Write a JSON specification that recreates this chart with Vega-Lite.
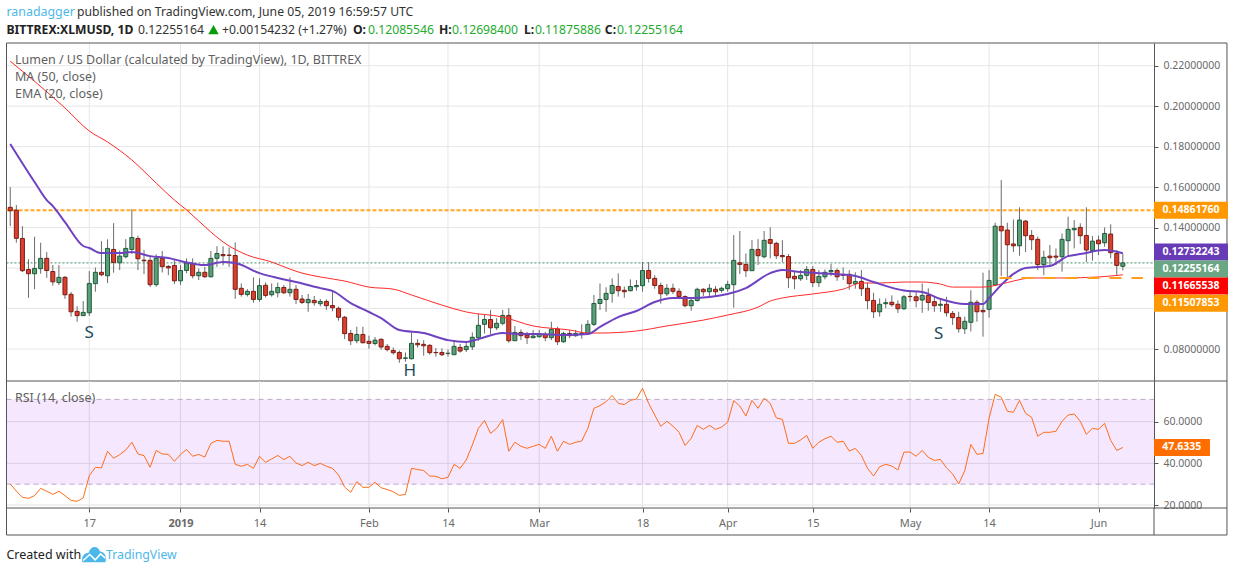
{
  "$schema": "https://vega.github.io/schema/vega-lite/v6.json",
  "width": 1234,
  "height": 572,
  "autosize": {"type": "fit", "contains": "padding"},
  "padding": 0,
  "background": "white",
  "config": {"view": {"stroke": null}, "text": {"font": "Noto Sans"}},
  "datasets": {
    "candles": [
      {"date":"2018-12-04","open":0.1500,"high":0.1600,"low":0.1407,"close":0.1483,"rsi":30.1},
      {"date":"2018-12-05","open":0.1486,"high":0.1511,"low":0.1325,"close":0.1347,"rsi":26.7},
      {"date":"2018-12-06","open":0.1346,"high":0.1407,"low":0.1180,"close":0.1187,"rsi":23.7},
      {"date":"2018-12-07","open":0.1193,"high":0.1244,"low":0.1053,"close":0.1172,"rsi":23.2},
      {"date":"2018-12-08","open":0.1172,"high":0.1355,"low":0.1096,"close":0.1198,"rsi":24.5},
      {"date":"2018-12-09","open":0.1197,"high":0.1325,"low":0.1172,"close":0.1248,"rsi":28.0},
      {"date":"2018-12-10","open":0.1248,"high":0.1279,"low":0.1152,"close":0.1188,"rsi":26.6},
      {"date":"2018-12-11","open":0.1183,"high":0.1215,"low":0.1113,"close":0.1132,"rsi":25.1},
      {"date":"2018-12-12","open":0.1128,"high":0.1215,"low":0.1116,"close":0.1154,"rsi":26.6},
      {"date":"2018-12-13","open":0.1154,"high":0.1161,"low":0.1048,"close":0.1068,"rsi":24.5},
      {"date":"2018-12-14","open":0.1070,"high":0.1082,"low":0.0960,"close":0.0984,"rsi":22.2},
      {"date":"2018-12-15","open":0.0986,"high":0.1012,"low":0.0935,"close":0.0965,"rsi":21.8},
      {"date":"2018-12-16","open":0.0965,"high":0.1037,"low":0.0963,"close":0.0981,"rsi":23.4},
      {"date":"2018-12-17","open":0.0979,"high":0.1185,"low":0.0963,"close":0.1124,"rsi":34.1},
      {"date":"2018-12-18","open":0.1123,"high":0.1203,"low":0.1083,"close":0.1179,"rsi":38.1},
      {"date":"2018-12-19","open":0.1179,"high":0.1333,"low":0.1160,"close":0.1167,"rsi":37.8},
      {"date":"2018-12-20","open":0.1162,"high":0.1342,"low":0.1126,"close":0.1297,"rsi":45.8},
      {"date":"2018-12-21","open":0.1292,"high":0.1422,"low":0.1177,"close":0.1228,"rsi":42.4},
      {"date":"2018-12-22","open":0.1226,"high":0.1286,"low":0.1190,"close":0.1259,"rsi":44.2},
      {"date":"2018-12-23","open":0.1256,"high":0.1343,"low":0.1248,"close":0.1297,"rsi":46.4},
      {"date":"2018-12-24","open":0.1292,"high":0.1491,"low":0.1269,"close":0.1351,"rsi":50.1},
      {"date":"2018-12-25","open":0.1346,"high":0.1360,"low":0.1190,"close":0.1246,"rsi":44.5},
      {"date":"2018-12-26","open":0.1239,"high":0.1289,"low":0.1170,"close":0.1236,"rsi":43.7},
      {"date":"2018-12-27","open":0.1238,"high":0.1256,"low":0.1106,"close":0.1118,"rsi":38.1},
      {"date":"2018-12-28","open":0.1118,"high":0.1268,"low":0.1108,"close":0.1248,"rsi":46.2},
      {"date":"2018-12-29","open":0.1248,"high":0.1284,"low":0.1178,"close":0.1207,"rsi":44.5},
      {"date":"2018-12-30","open":0.1208,"high":0.1215,"low":0.1165,"close":0.1201,"rsi":44.3},
      {"date":"2018-12-31","open":0.1213,"high":0.1239,"low":0.1121,"close":0.1137,"rsi":41.0},
      {"date":"2019-01-01","open":0.1137,"high":0.1215,"low":0.1116,"close":0.1188,"rsi":44.2},
      {"date":"2019-01-02","open":0.1188,"high":0.1248,"low":0.1174,"close":0.1225,"rsi":46.7},
      {"date":"2019-01-03","open":0.1223,"high":0.1248,"low":0.1149,"close":0.1162,"rsi":43.4},
      {"date":"2019-01-04","open":0.1162,"high":0.1198,"low":0.1141,"close":0.1179,"rsi":44.3},
      {"date":"2019-01-05","open":0.1179,"high":0.1206,"low":0.1152,"close":0.1157,"rsi":43.0},
      {"date":"2019-01-06","open":0.1157,"high":0.1284,"low":0.1154,"close":0.1248,"rsi":49.6},
      {"date":"2019-01-07","open":0.1248,"high":0.1308,"low":0.1206,"close":0.1272,"rsi":51.0},
      {"date":"2019-01-08","open":0.1267,"high":0.1308,"low":0.1213,"close":0.1261,"rsi":50.6},
      {"date":"2019-01-09","open":0.1264,"high":0.1302,"low":0.1206,"close":0.1263,"rsi":50.6},
      {"date":"2019-01-10","open":0.1262,"high":0.1327,"low":0.1048,"close":0.1095,"rsi":39.5},
      {"date":"2019-01-11","open":0.1100,"high":0.1124,"low":0.1059,"close":0.1070,"rsi":38.6},
      {"date":"2019-01-12","open":0.1069,"high":0.1096,"low":0.1059,"close":0.1085,"rsi":39.5},
      {"date":"2019-01-13","open":0.1085,"high":0.1154,"low":0.1029,"close":0.1045,"rsi":37.6},
      {"date":"2019-01-14","open":0.1045,"high":0.1149,"low":0.1034,"close":0.1113,"rsi":43.4},
      {"date":"2019-01-15","open":0.1115,"high":0.1129,"low":0.1055,"close":0.1065,"rsi":40.5},
      {"date":"2019-01-16","open":0.1068,"high":0.1124,"low":0.1059,"close":0.1085,"rsi":42.1},
      {"date":"2019-01-17","open":0.1078,"high":0.1128,"low":0.1055,"close":0.1104,"rsi":43.8},
      {"date":"2019-01-18","open":0.1104,"high":0.1116,"low":0.1072,"close":0.1078,"rsi":41.8},
      {"date":"2019-01-19","open":0.1078,"high":0.1154,"low":0.1059,"close":0.1095,"rsi":43.4},
      {"date":"2019-01-20","open":0.1095,"high":0.1116,"low":0.1022,"close":0.1045,"rsi":40.2},
      {"date":"2019-01-21","open":0.1047,"high":0.1067,"low":0.1022,"close":0.1030,"rsi":38.9},
      {"date":"2019-01-22","open":0.1029,"high":0.1072,"low":0.0984,"close":0.1045,"rsi":40.5},
      {"date":"2019-01-23","open":0.1040,"high":0.1062,"low":0.1014,"close":0.1029,"rsi":38.9},
      {"date":"2019-01-24","open":0.1024,"high":0.1047,"low":0.1011,"close":0.1035,"rsi":40.0},
      {"date":"2019-01-25","open":0.1035,"high":0.1045,"low":0.0993,"close":0.1014,"rsi":38.6},
      {"date":"2019-01-26","open":0.1015,"high":0.1087,"low":0.0987,"close":0.1004,"rsi":37.6},
      {"date":"2019-01-27","open":0.1001,"high":0.1009,"low":0.0940,"close":0.0957,"rsi":34.4},
      {"date":"2019-01-28","open":0.0957,"high":0.0963,"low":0.0849,"close":0.0876,"rsi":28.6},
      {"date":"2019-01-29","open":0.0877,"high":0.0894,"low":0.0820,"close":0.0841,"rsi":26.1},
      {"date":"2019-01-30","open":0.0841,"high":0.0910,"low":0.0828,"close":0.0872,"rsi":31.2},
      {"date":"2019-01-31","open":0.0872,"high":0.0910,"low":0.0828,"close":0.0831,"rsi":28.5},
      {"date":"2019-02-01","open":0.0838,"high":0.0866,"low":0.0802,"close":0.0828,"rsi":28.5},
      {"date":"2019-02-02","open":0.0827,"high":0.0859,"low":0.0818,"close":0.0844,"rsi":30.9},
      {"date":"2019-02-03","open":0.0848,"high":0.0853,"low":0.0797,"close":0.0810,"rsi":28.3},
      {"date":"2019-02-04","open":0.0813,"high":0.0825,"low":0.0788,"close":0.0797,"rsi":27.4},
      {"date":"2019-02-05","open":0.0793,"high":0.0808,"low":0.0772,"close":0.0782,"rsi":26.4},
      {"date":"2019-02-06","open":0.0783,"high":0.0793,"low":0.0732,"close":0.0752,"rsi":24.6},
      {"date":"2019-02-07","open":0.0754,"high":0.0783,"low":0.0737,"close":0.0756,"rsi":25.1},
      {"date":"2019-02-08","open":0.0752,"high":0.0882,"low":0.0749,"close":0.0828,"rsi":37.6},
      {"date":"2019-02-09","open":0.0828,"high":0.0848,"low":0.0807,"close":0.0821,"rsi":37.1},
      {"date":"2019-02-10","open":0.0823,"high":0.0844,"low":0.0767,"close":0.0816,"rsi":36.5},
      {"date":"2019-02-11","open":0.0818,"high":0.0825,"low":0.0772,"close":0.0782,"rsi":33.9},
      {"date":"2019-02-12","open":0.0783,"high":0.0805,"low":0.0762,"close":0.0782,"rsi":33.8},
      {"date":"2019-02-13","open":0.0783,"high":0.0803,"low":0.0765,"close":0.0772,"rsi":32.6},
      {"date":"2019-02-14","open":0.0778,"high":0.0798,"low":0.0762,"close":0.0779,"rsi":33.3},
      {"date":"2019-02-15","open":0.0772,"high":0.0844,"low":0.0772,"close":0.0813,"rsi":39.5},
      {"date":"2019-02-16","open":0.0808,"high":0.0825,"low":0.0782,"close":0.0790,"rsi":37.6},
      {"date":"2019-02-17","open":0.0797,"high":0.0833,"low":0.0785,"close":0.0813,"rsi":41.6},
      {"date":"2019-02-18","open":0.0811,"high":0.0882,"low":0.0795,"close":0.0858,"rsi":48.8},
      {"date":"2019-02-19","open":0.0856,"high":0.0973,"low":0.0840,"close":0.0917,"rsi":56.8},
      {"date":"2019-02-20","open":0.0922,"high":0.0973,"low":0.0877,"close":0.0946,"rsi":60.6},
      {"date":"2019-02-21","open":0.0946,"high":0.0993,"low":0.0874,"close":0.0905,"rsi":54.4},
      {"date":"2019-02-22","open":0.0905,"high":0.0952,"low":0.0894,"close":0.0927,"rsi":56.8},
      {"date":"2019-02-23","open":0.0927,"high":0.0993,"low":0.0917,"close":0.0966,"rsi":61.0},
      {"date":"2019-02-24","open":0.0966,"high":0.1002,"low":0.0831,"close":0.0841,"rsi":45.8},
      {"date":"2019-02-25","open":0.0841,"high":0.0914,"low":0.0841,"close":0.0882,"rsi":50.1},
      {"date":"2019-02-26","open":0.0882,"high":0.0897,"low":0.0844,"close":0.0866,"rsi":48.2},
      {"date":"2019-02-27","open":0.0869,"high":0.0885,"low":0.0825,"close":0.0856,"rsi":47.2},
      {"date":"2019-02-28","open":0.0856,"high":0.0894,"low":0.0853,"close":0.0864,"rsi":48.2},
      {"date":"2019-03-01","open":0.0861,"high":0.0894,"low":0.0856,"close":0.0872,"rsi":49.1},
      {"date":"2019-03-02","open":0.0872,"high":0.0885,"low":0.0839,"close":0.0856,"rsi":47.2},
      {"date":"2019-03-03","open":0.0856,"high":0.0935,"low":0.0844,"close":0.0897,"rsi":53.0},
      {"date":"2019-03-04","open":0.0899,"high":0.0910,"low":0.0820,"close":0.0836,"rsi":45.8},
      {"date":"2019-03-05","open":0.0836,"high":0.0885,"low":0.0831,"close":0.0877,"rsi":50.6},
      {"date":"2019-03-06","open":0.0877,"high":0.0894,"low":0.0853,"close":0.0866,"rsi":49.1},
      {"date":"2019-03-07","open":0.0866,"high":0.0894,"low":0.0860,"close":0.0877,"rsi":50.1},
      {"date":"2019-03-08","open":0.0877,"high":0.0922,"low":0.0851,"close":0.0878,"rsi":50.7},
      {"date":"2019-03-09","open":0.0876,"high":0.0943,"low":0.0874,"close":0.0922,"rsi":56.8},
      {"date":"2019-03-10","open":0.0922,"high":0.1067,"low":0.0914,"close":0.1025,"rsi":66.4},
      {"date":"2019-03-11","open":0.1025,"high":0.1124,"low":0.0993,"close":0.1045,"rsi":67.7},
      {"date":"2019-03-12","open":0.1045,"high":0.1105,"low":0.0984,"close":0.1075,"rsi":69.6},
      {"date":"2019-03-13","open":0.1075,"high":0.1149,"low":0.1029,"close":0.1114,"rsi":72.6},
      {"date":"2019-03-14","open":0.1109,"high":0.1174,"low":0.1059,"close":0.1088,"rsi":68.8},
      {"date":"2019-03-15","open":0.1090,"high":0.1109,"low":0.1053,"close":0.1083,"rsi":68.2},
      {"date":"2019-03-16","open":0.1088,"high":0.1144,"low":0.1085,"close":0.1109,"rsi":70.2},
      {"date":"2019-03-17","open":0.1108,"high":0.1141,"low":0.1088,"close":0.1114,"rsi":70.9},
      {"date":"2019-03-18","open":0.1113,"high":0.1230,"low":0.1083,"close":0.1188,"rsi":76.0},
      {"date":"2019-03-19","open":0.1188,"high":0.1230,"low":0.1128,"close":0.1149,"rsi":68.8},
      {"date":"2019-03-20","open":0.1149,"high":0.1165,"low":0.1098,"close":0.1114,"rsi":63.2},
      {"date":"2019-03-21","open":0.1114,"high":0.1128,"low":0.1024,"close":0.1073,"rsi":57.8},
      {"date":"2019-03-22","open":0.1073,"high":0.1121,"low":0.1062,"close":0.1100,"rsi":60.2},
      {"date":"2019-03-23","open":0.1100,"high":0.1123,"low":0.1072,"close":0.1085,"rsi":57.9},
      {"date":"2019-03-24","open":0.1085,"high":0.1100,"low":0.1048,"close":0.1059,"rsi":54.9},
      {"date":"2019-03-25","open":0.1059,"high":0.1065,"low":0.1006,"close":0.1014,"rsi":48.6},
      {"date":"2019-03-26","open":0.1014,"high":0.1050,"low":0.0989,"close":0.1040,"rsi":52.0},
      {"date":"2019-03-27","open":0.1040,"high":0.1103,"low":0.1034,"close":0.1095,"rsi":58.2},
      {"date":"2019-03-28","open":0.1095,"high":0.1101,"low":0.1062,"close":0.1083,"rsi":56.3},
      {"date":"2019-03-29","open":0.1083,"high":0.1121,"low":0.1062,"close":0.1100,"rsi":58.2},
      {"date":"2019-03-30","open":0.1095,"high":0.1111,"low":0.1059,"close":0.1083,"rsi":56.3},
      {"date":"2019-03-31","open":0.1090,"high":0.1108,"low":0.1078,"close":0.1100,"rsi":57.4},
      {"date":"2019-04-01","open":0.1098,"high":0.1137,"low":0.1083,"close":0.1119,"rsi":59.7},
      {"date":"2019-04-02","open":0.1118,"high":0.1363,"low":0.1004,"close":0.1238,"rsi":70.1},
      {"date":"2019-04-03","open":0.1226,"high":0.1383,"low":0.1170,"close":0.1218,"rsi":67.5},
      {"date":"2019-04-04","open":0.1218,"high":0.1272,"low":0.1156,"close":0.1187,"rsi":62.7},
      {"date":"2019-04-05","open":0.1187,"high":0.1338,"low":0.1187,"close":0.1292,"rsi":70.2},
      {"date":"2019-04-06","open":0.1292,"high":0.1343,"low":0.1215,"close":0.1261,"rsi":66.4},
      {"date":"2019-04-07","open":0.1256,"high":0.1383,"low":0.1248,"close":0.1337,"rsi":71.2},
      {"date":"2019-04-08","open":0.1341,"high":0.1402,"low":0.1248,"close":0.1322,"rsi":68.8},
      {"date":"2019-04-09","open":0.1322,"high":0.1330,"low":0.1245,"close":0.1261,"rsi":61.8},
      {"date":"2019-04-10","open":0.1262,"high":0.1338,"low":0.1228,"close":0.1256,"rsi":61.1},
      {"date":"2019-04-11","open":0.1257,"high":0.1269,"low":0.1101,"close":0.1152,"rsi":49.6},
      {"date":"2019-04-12","open":0.1159,"high":0.1182,"low":0.1096,"close":0.1147,"rsi":49.6},
      {"date":"2019-04-13","open":0.1147,"high":0.1190,"low":0.1137,"close":0.1164,"rsi":51.2},
      {"date":"2019-04-14","open":0.1164,"high":0.1210,"low":0.1141,"close":0.1193,"rsi":53.4},
      {"date":"2019-04-15","open":0.1193,"high":0.1210,"low":0.1106,"close":0.1128,"rsi":47.2},
      {"date":"2019-04-16","open":0.1128,"high":0.1190,"low":0.1106,"close":0.1159,"rsi":50.1},
      {"date":"2019-04-17","open":0.1157,"high":0.1193,"low":0.1144,"close":0.1179,"rsi":51.8},
      {"date":"2019-04-18","open":0.1182,"high":0.1220,"low":0.1161,"close":0.1188,"rsi":53.0},
      {"date":"2019-04-19","open":0.1188,"high":0.1198,"low":0.1137,"close":0.1157,"rsi":50.1},
      {"date":"2019-04-20","open":0.1166,"high":0.1203,"low":0.1141,"close":0.1165,"rsi":50.6},
      {"date":"2019-04-21","open":0.1169,"high":0.1190,"low":0.1093,"close":0.1123,"rsi":45.9},
      {"date":"2019-04-22","open":0.1123,"high":0.1179,"low":0.1098,"close":0.1134,"rsi":47.2},
      {"date":"2019-04-23","open":0.1134,"high":0.1190,"low":0.1062,"close":0.1098,"rsi":43.8},
      {"date":"2019-04-24","open":0.1100,"high":0.1129,"low":0.0997,"close":0.1039,"rsi":37.6},
      {"date":"2019-04-25","open":0.1040,"high":0.1078,"low":0.0953,"close":0.0984,"rsi":33.9},
      {"date":"2019-04-26","open":0.0984,"high":0.1050,"low":0.0960,"close":0.1021,"rsi":38.4},
      {"date":"2019-04-27","open":0.1024,"high":0.1050,"low":0.1002,"close":0.1029,"rsi":39.5},
      {"date":"2019-04-28","open":0.1031,"high":0.1065,"low":0.1009,"close":0.1019,"rsi":38.7},
      {"date":"2019-04-29","open":0.1021,"high":0.1040,"low":0.0978,"close":0.0999,"rsi":36.8},
      {"date":"2019-04-30","open":0.0999,"high":0.1067,"low":0.0993,"close":0.1058,"rsi":45.4},
      {"date":"2019-05-01","open":0.1060,"high":0.1083,"low":0.1034,"close":0.1059,"rsi":45.4},
      {"date":"2019-05-02","open":0.1058,"high":0.1083,"low":0.1006,"close":0.1039,"rsi":43.4},
      {"date":"2019-05-03","open":0.1042,"high":0.1124,"low":0.0979,"close":0.1065,"rsi":46.2},
      {"date":"2019-05-04","open":0.1065,"high":0.1100,"low":0.0989,"close":0.1030,"rsi":42.9},
      {"date":"2019-05-05","open":0.1034,"high":0.1058,"low":0.0984,"close":0.1014,"rsi":41.4},
      {"date":"2019-05-06","open":0.1016,"high":0.1042,"low":0.0984,"close":0.1021,"rsi":41.9},
      {"date":"2019-05-07","open":0.1021,"high":0.1058,"low":0.0960,"close":0.0979,"rsi":37.8},
      {"date":"2019-05-08","open":0.0976,"high":0.0988,"low":0.0919,"close":0.0955,"rsi":34.9},
      {"date":"2019-05-09","open":0.0956,"high":0.0984,"low":0.0881,"close":0.0900,"rsi":30.1},
      {"date":"2019-05-10","open":0.0900,"high":0.0960,"low":0.0874,"close":0.0937,"rsi":36.5},
      {"date":"2019-05-11","open":0.0932,"high":0.1090,"low":0.0887,"close":0.1031,"rsi":49.1},
      {"date":"2019-05-12","open":0.1031,"high":0.1042,"low":0.0935,"close":0.0984,"rsi":44.3},
      {"date":"2019-05-13","open":0.0991,"high":0.1177,"low":0.0861,"close":0.0984,"rsi":44.8},
      {"date":"2019-05-14","open":0.0996,"high":0.1190,"low":0.0955,"close":0.1139,"rsi":61.6},
      {"date":"2019-05-15","open":0.1116,"high":0.1424,"low":0.1113,"close":0.1407,"rsi":73.1},
      {"date":"2019-05-16","open":0.1406,"high":0.1635,"low":0.1161,"close":0.1384,"rsi":71.7},
      {"date":"2019-05-17","open":0.1388,"high":0.1424,"low":0.1154,"close":0.1315,"rsi":65.0},
      {"date":"2019-05-18","open":0.1319,"high":0.1440,"low":0.1279,"close":0.1310,"rsi":64.5},
      {"date":"2019-05-19","open":0.1310,"high":0.1500,"low":0.1261,"close":0.1437,"rsi":70.2},
      {"date":"2019-05-20","open":0.1432,"high":0.1437,"low":0.1279,"close":0.1360,"rsi":64.0},
      {"date":"2019-05-21","open":0.1361,"high":0.1388,"low":0.1289,"close":0.1340,"rsi":62.1},
      {"date":"2019-05-22","open":0.1342,"high":0.1355,"low":0.1190,"close":0.1217,"rsi":53.0},
      {"date":"2019-05-23","open":0.1217,"high":0.1286,"low":0.1165,"close":0.1253,"rsi":54.9},
      {"date":"2019-05-24","open":0.1259,"high":0.1314,"low":0.1207,"close":0.1251,"rsi":54.9},
      {"date":"2019-05-25","open":0.1259,"high":0.1297,"low":0.1215,"close":0.1254,"rsi":55.4},
      {"date":"2019-05-26","open":0.1256,"high":0.1371,"low":0.1182,"close":0.1342,"rsi":60.2},
      {"date":"2019-05-27","open":0.1335,"high":0.1454,"low":0.1259,"close":0.1391,"rsi":63.2},
      {"date":"2019-05-28","open":0.1389,"high":0.1437,"low":0.1297,"close":0.1396,"rsi":63.7},
      {"date":"2019-05-29","open":0.1401,"high":0.1421,"low":0.1319,"close":0.1360,"rsi":60.2},
      {"date":"2019-05-30","open":0.1361,"high":0.1500,"low":0.1230,"close":0.1289,"rsi":53.9},
      {"date":"2019-05-31","open":0.1287,"high":0.1358,"low":0.1236,"close":0.1333,"rsi":56.8},
      {"date":"2019-06-01","open":0.1338,"high":0.1360,"low":0.1264,"close":0.1320,"rsi":56.3},
      {"date":"2019-06-02","open":0.1325,"high":0.1401,"low":0.1305,"close":0.1371,"rsi":59.2},
      {"date":"2019-06-03","open":0.1368,"high":0.1416,"low":0.1248,"close":0.1276,"rsi":51.0},
      {"date":"2019-06-04","open":0.1272,"high":0.1289,"low":0.1165,"close":0.1213,"rsi":46.2},
      {"date":"2019-06-05","open":0.12086,"high":0.12698,"low":0.11876,"close":0.12255,"rsi":47.63}
    ],
    "ema20": [
      {"date":"2018-12-04","price":0.1813},{"date":"2018-12-08","price":0.1625},{"date":"2018-12-10","price":0.1536},
      {"date":"2018-12-11","price":0.1506},{"date":"2018-12-13","price":0.1427},{"date":"2018-12-16","price":0.1309},
      {"date":"2018-12-17","price":0.1299},{"date":"2018-12-19","price":0.1274},{"date":"2018-12-22","price":0.1274},
      {"date":"2018-12-24","price":0.1279},{"date":"2018-12-27","price":0.1259},{"date":"2018-12-30","price":0.1250},
      {"date":"2019-01-01","price":0.1235},{"date":"2019-01-05","price":0.1215},{"date":"2019-01-08","price":0.1230},
      {"date":"2019-01-10","price":0.1225},{"date":"2019-01-14","price":0.1175},{"date":"2019-01-17","price":0.1151},
      {"date":"2019-01-20","price":0.1131},{"date":"2019-01-24","price":0.1101},{"date":"2019-01-26","price":0.1087},
      {"date":"2019-01-29","price":0.1027},{"date":"2019-02-01","price":0.0983},{"date":"2019-02-03","price":0.0953},
      {"date":"2019-02-06","price":0.0894},{"date":"2019-02-10","price":0.0879},{"date":"2019-02-14","price":0.0844},
      {"date":"2019-02-17","price":0.0835},{"date":"2019-02-19","price":0.0849},{"date":"2019-02-23","price":0.0879},
      {"date":"2019-02-26","price":0.0874},{"date":"2019-03-01","price":0.0874},{"date":"2019-03-05","price":0.0869},
      {"date":"2019-03-09","price":0.0874},{"date":"2019-03-11","price":0.0909},{"date":"2019-03-14","price":0.0958},
      {"date":"2019-03-17","price":0.0988},{"date":"2019-03-20","price":0.1032},{"date":"2019-03-23","price":0.1052},
      {"date":"2019-03-26","price":0.1052},{"date":"2019-04-01","price":0.1072},{"date":"2019-04-04","price":0.1101},
      {"date":"2019-04-08","price":0.1175},{"date":"2019-04-10","price":0.1190},{"date":"2019-04-13","price":0.1180},
      {"date":"2019-04-19","price":0.1170},{"date":"2019-04-22","price":0.1161},{"date":"2019-04-25","price":0.1131},
      {"date":"2019-04-30","price":0.1089},{"date":"2019-05-03","price":0.1082},{"date":"2019-05-06","price":0.1047},
      {"date":"2019-05-10","price":0.1022},{"date":"2019-05-13","price":0.1022},{"date":"2019-05-14","price":0.1052},
      {"date":"2019-05-16","price":0.1116},{"date":"2019-05-18","price":0.1171},{"date":"2019-05-20","price":0.1200},
      {"date":"2019-05-24","price":0.1210},{"date":"2019-05-27","price":0.1259},{"date":"2019-05-29","price":0.1269},
      {"date":"2019-06-02","price":0.1289},{"date":"2019-06-05","price":0.12732}
    ],
    "ma50": [
      {"date":"2018-12-04","price":0.2222},{"date":"2018-12-13","price":0.1991},{"date":"2018-12-17","price":0.1877},
      {"date":"2018-12-20","price":0.1823},{"date":"2018-12-24","price":0.1734},{"date":"2018-12-28","price":0.1620},
      {"date":"2018-12-31","price":0.1536},{"date":"2019-01-02","price":0.1487},{"date":"2019-01-06","price":0.1378},
      {"date":"2019-01-08","price":0.1329},{"date":"2019-01-12","price":0.1264},{"date":"2019-01-16","price":0.1230},
      {"date":"2019-01-19","price":0.1195},{"date":"2019-01-21","price":0.1175},{"date":"2019-01-24","price":0.1156},
      {"date":"2019-01-28","price":0.1136},{"date":"2019-02-01","price":0.1106},{"date":"2019-02-05","price":0.1096},
      {"date":"2019-02-08","price":0.1067},{"date":"2019-02-13","price":0.1017},{"date":"2019-02-17","price":0.0983},
      {"date":"2019-02-23","price":0.0958},{"date":"2019-02-28","price":0.0914},{"date":"2019-03-06","price":0.0894},
      {"date":"2019-03-09","price":0.0879},{"date":"2019-03-11","price":0.0879},{"date":"2019-03-17","price":0.0889},
      {"date":"2019-03-22","price":0.0914},{"date":"2019-03-28","price":0.0943},{"date":"2019-04-01","price":0.0968},
      {"date":"2019-04-06","price":0.1007},{"date":"2019-04-08","price":0.1037},{"date":"2019-04-10","price":0.1052},
      {"date":"2019-04-15","price":0.1072},{"date":"2019-04-20","price":0.1096},{"date":"2019-04-23","price":0.1126},
      {"date":"2019-04-26","price":0.1126},{"date":"2019-04-30","price":0.1131},{"date":"2019-05-03","price":0.1131},
      {"date":"2019-05-06","price":0.1121},{"date":"2019-05-08","price":0.1106},{"date":"2019-05-13","price":0.1106},
      {"date":"2019-05-16","price":0.1121},{"date":"2019-05-18","price":0.1136},{"date":"2019-05-21","price":0.1151},
      {"date":"2019-05-26","price":0.1151},{"date":"2019-06-01","price":0.1156},{"date":"2019-06-05","price":0.11666}
    ],
    "dateGrid": [
      {"date":"2018-12-17","price":0.2312,"price2":0.0642,"rsi":79.52,"rsi2":18.56},
      {"date":"2019-01-01","price":0.2312,"price2":0.0642,"rsi":79.52,"rsi2":18.56},
      {"date":"2019-01-14","price":0.2312,"price2":0.0642,"rsi":79.52,"rsi2":18.56},
      {"date":"2019-02-01","price":0.2312,"price2":0.0642,"rsi":79.52,"rsi2":18.56},
      {"date":"2019-02-14","price":0.2312,"price2":0.0642,"rsi":79.52,"rsi2":18.56},
      {"date":"2019-03-01","price":0.2312,"price2":0.0642,"rsi":79.52,"rsi2":18.56},
      {"date":"2019-03-18","price":0.2312,"price2":0.0642,"rsi":79.52,"rsi2":18.56},
      {"date":"2019-04-01","price":0.2312,"price2":0.0642,"rsi":79.52,"rsi2":18.56},
      {"date":"2019-04-15","price":0.2312,"price2":0.0642,"rsi":79.52,"rsi2":18.56},
      {"date":"2019-05-01","price":0.2312,"price2":0.0642,"rsi":79.52,"rsi2":18.56},
      {"date":"2019-05-14","price":0.2312,"price2":0.0642,"rsi":79.52,"rsi2":18.56},
      {"date":"2019-06-01","price":0.2312,"price2":0.0642,"rsi":79.52,"rsi2":18.56}
    ],
    "priceGrid": [
      {"date":"2018-12-03T09:10:00Z","date2":"2019-06-10T03:00:00Z","price":0.08},
      {"date":"2018-12-03T09:10:00Z","date2":"2019-06-10T03:00:00Z","price":0.10},
      {"date":"2018-12-03T09:10:00Z","date2":"2019-06-10T03:00:00Z","price":0.12},
      {"date":"2018-12-03T09:10:00Z","date2":"2019-06-10T03:00:00Z","price":0.14},
      {"date":"2018-12-03T09:10:00Z","date2":"2019-06-10T03:00:00Z","price":0.16},
      {"date":"2018-12-03T09:10:00Z","date2":"2019-06-10T03:00:00Z","price":0.18},
      {"date":"2018-12-03T09:10:00Z","date2":"2019-06-10T03:00:00Z","price":0.20},
      {"date":"2018-12-03T09:10:00Z","date2":"2019-06-10T03:00:00Z","price":0.22}
    ],
    "frame": [
      {"date":"2018-12-03T09:10:00Z","date2":"2019-06-22T03:00:00Z","price":0.2312,"price2":0.2312},
      {"date":"2018-12-03T09:10:00Z","date2":"2019-06-22T03:00:00Z","price":0.0642,"price2":0.0642},
      {"date":"2018-12-03T09:10:00Z","date2":"2018-12-03T09:10:00Z","price":0.2312,"price2":0.0642},
      {"date":"2019-06-22T03:00:00Z","date2":"2019-06-22T03:00:00Z","price":0.2312,"price2":0.0642}
    ],
    "rsiFrame": [
      {"date":"2018-12-03T09:10:00Z","date2":"2019-06-22T03:00:00Z","rsi":18.56,"rsi2":18.56},
      {"date":"2018-12-03T09:10:00Z","date2":"2019-06-22T03:00:00Z","rsi":5.6,"rsi2":5.6},
      {"date":"2018-12-03T09:10:00Z","date2":"2018-12-03T09:10:00Z","rsi":79.52,"rsi2":5.6},
      {"date":"2019-06-10T03:00:00Z","date2":"2019-06-10T03:00:00Z","rsi":18.56,"rsi2":5.6},
      {"date":"2019-06-22T03:00:00Z","date2":"2019-06-22T03:00:00Z","rsi":79.52,"rsi2":5.6}
    ]
  },
  "encoding": {
    "x": {
      "field": "date",
      "type": "temporal",
      "title": null,
      "scale": {"type": "utc", "domain": ["2018-12-03T09:10:00Z", "2019-06-10T03:00:00Z"], "range": [6.5, 1154], "padding": 0},
      "axis": {
        "orient": "bottom",
        "offset": -64,
        "grid": false,
        "domain": false,
        "values": ["2018-12-17", "2019-01-01", "2019-01-14", "2019-02-01", "2019-02-14", "2019-03-01", "2019-03-18", "2019-04-01", "2019-04-15", "2019-05-01", "2019-05-14", "2019-06-01"],
        "labelExpr": "utcdate(datum.value) == 1 ? (utcmonth(datum.value) == 0 ? '2019' : utcFormat(datum.value, '%b')) : utcFormat(datum.value, '%-d')",
        "labelFont": "Noto Sans",
        "labelFontSize": 11,
        "labelFontWeight": {"condition": {"test": "utcyear(datum.value) == 2019 && utcmonth(datum.value) == 0 && utcdate(datum.value) == 1", "value": "bold"}, "value": "normal"},
        "labelColor": "#6a6a6a",
        "labelPadding": 5,
        "labelFlush": false,
        "labelOverlap": false,
        "tickColor": "#555555",
        "tickSize": 4
      }
    }
  },
  "layer": [
    {
      "encoding": {
        "y": {
          "field": "price",
          "type": "quantitative",
          "title": null,
          "scale": {"domain": [0.0642, 0.2312], "range": [381, 43], "zero": false, "nice": false, "padding": 0},
          "axis": {
            "orient": "right",
            "offset": -80,
            "grid": false,
            "values": [0.08, 0.1, 0.12, 0.14, 0.16, 0.18, 0.2, 0.22],
            "labelExpr": "abs(datum.value - 0.1) < 0.001 ? '' : format(datum.value, '.8f')",
            "labelFont": "Noto Sans",
            "labelFontSize": 10.5,
            "labelColor": "#6a6a6a",
            "labelPadding": 5,
            "labelOverlap": false,
            "tickColor": "#555555",
            "tickSize": 4,
            "domainColor": "#555555"
          }
        }
      },
      "layer": [
        {
          "data": {"name": "dateGrid"},
          "mark": {"type": "rule", "color": "#e6e6e6", "strokeWidth": 1},
          "encoding": {"y2": {"field": "price2"}}
        },
        {
          "data": {"name": "priceGrid"},
          "mark": {"type": "rule", "color": "#e6e6e6", "strokeWidth": 1},
          "encoding": {"x2": {"field": "date2"}}
        },
        {
          "data": {"name": "frame"},
          "mark": {"type": "rule", "color": "#555555", "strokeWidth": 1},
          "encoding": {"x2": {"field": "date2"}, "y2": {"field": "price2"}}
        },
        {
          "data": {"values": [{"date": "2018-12-03T09:10:00Z", "date2": "2019-06-10T03:00:00Z", "price": 0.12255}]},
          "mark": {"type": "rule", "color": "#3f8f66", "strokeWidth": 1, "strokeDash": [2, 2]},
          "encoding": {"x2": {"field": "date2"}}
        },
        {
          "data": {"values": [{"date": "2018-12-03T09:10:00Z", "date2": "2019-06-10T03:00:00Z", "price": 0.14862}]},
          "mark": {"type": "rule", "color": "#ff9800", "strokeWidth": 2, "strokeDash": [4, 2], "opacity": 0.85},
          "encoding": {"x2": {"field": "date2"}}
        },
        {
          "data": {"name": "candles"},
          "mark": {"type": "rule", "color": "#6b6b6b", "strokeWidth": 1},
          "encoding": {
            "y": {
              "field": "high",
              "type": "quantitative",
              "title": null,
              "scale": {"domain": [0.0642, 0.2312], "range": [381, 43], "zero": false, "nice": false, "padding": 0},
              "axis": {
                "orient": "right",
                "offset": -80,
                "grid": false,
                "values": [0.08, 0.1, 0.12, 0.14, 0.16, 0.18, 0.2, 0.22],
                "labelExpr": "abs(datum.value - 0.1) < 0.001 ? '' : format(datum.value, '.8f')",
                "labelFont": "Noto Sans",
                "labelFontSize": 10.5,
                "labelColor": "#6a6a6a",
                "labelPadding": 5,
                "labelOverlap": false,
                "tickColor": "#555555",
                "tickSize": 4,
                "domainColor": "#555555"
              }
            },
            "y2": {"field": "low"}
          }
        },
        {
          "data": {"name": "candles"},
          "mark": {"type": "bar", "size": 4, "strokeWidth": 1, "orient": "vertical"},
          "encoding": {
            "y": {
              "field": "open",
              "type": "quantitative",
              "title": null,
              "scale": {"domain": [0.0642, 0.2312], "range": [381, 43], "zero": false, "nice": false, "padding": 0},
              "axis": {
                "orient": "right",
                "offset": -80,
                "grid": false,
                "values": [0.08, 0.1, 0.12, 0.14, 0.16, 0.18, 0.2, 0.22],
                "labelExpr": "abs(datum.value - 0.1) < 0.001 ? '' : format(datum.value, '.8f')",
                "labelFont": "Noto Sans",
                "labelFontSize": 10.5,
                "labelColor": "#6a6a6a",
                "labelPadding": 5,
                "labelOverlap": false,
                "tickColor": "#555555",
                "tickSize": 4,
                "domainColor": "#555555"
              }
            },
            "y2": {"field": "close"},
            "fill": {"condition": {"test": "datum.close >= datum.open", "value": "#5b9e7a"}, "value": "#d9412e"},
            "stroke": {"condition": {"test": "datum.close >= datum.open", "value": "#1e5b3a"}, "value": "#7c1c14"}
          }
        },
        {
          "data": {"name": "ma50"},
          "mark": {"type": "line", "color": "#ff2a2a", "strokeWidth": 1, "interpolate": "monotone"}
        },
        {
          "data": {"name": "ema20"},
          "mark": {"type": "line", "color": "#6f42c1", "strokeWidth": 2, "interpolate": "monotone"}
        },
        {
          "data": {"values": [{"date": "2019-05-15T17:00:00Z", "date2": "2019-06-08T07:00:00Z", "price": 0.11508}]},
          "mark": {"type": "rule", "color": "#ff9f1c", "strokeWidth": 2, "strokeDash": [12, 10]},
          "encoding": {"x2": {"field": "date2"}}
        },
        {
          "data": {"values": [
            {"date": "2019-06-10T03:00:00Z", "date2": "2019-06-22T07:00:00Z", "price": 0.14862, "series": "resistance"},
            {"date": "2019-06-10T03:00:00Z", "date2": "2019-06-22T07:00:00Z", "price": 0.1279, "series": "ema"},
            {"date": "2019-06-10T03:00:00Z", "date2": "2019-06-22T07:00:00Z", "price": 0.1195, "series": "last"},
            {"date": "2019-06-10T03:00:00Z", "date2": "2019-06-22T07:00:00Z", "price": 0.1111, "series": "ma"},
            {"date": "2019-06-10T03:00:00Z", "date2": "2019-06-22T07:00:00Z", "price": 0.1026, "series": "support"}
          ]},
          "mark": {"type": "bar", "size": 17, "orient": "horizontal"},
          "encoding": {
            "x2": {"field": "date2"},
            "color": {
              "field": "series",
              "type": "nominal",
              "legend": null,
              "scale": {"domain": ["resistance", "ema", "last", "ma", "support"], "range": ["#ff9800", "#673ab7", "#6aa584", "#ff0000", "#ff9800"]}
            }
          }
        },
        {
          "data": {"values": [
            {"date": "2019-06-16T05:00:00Z", "price": 0.14862, "label": "0.14861760"},
            {"date": "2019-06-16T05:00:00Z", "price": 0.1279, "label": "0.12732243"},
            {"date": "2019-06-16T05:00:00Z", "price": 0.1195, "label": "0.12255164"},
            {"date": "2019-06-16T05:00:00Z", "price": 0.1111, "label": "0.11665538"},
            {"date": "2019-06-16T05:00:00Z", "price": 0.1026, "label": "0.11507853"}
          ]},
          "mark": {"type": "text", "color": "white", "fontWeight": "bold", "fontSize": 10.5, "align": "center", "baseline": "middle"},
          "encoding": {"text": {"field": "label"}}
        },
        {
          "data": {"values": [
            {"date": "2018-12-03T09:00:00Z", "price": 0.2378, "label": "BITTREX:XLMUSD, 1D"},
            {"date": "2019-01-29T08:50:00Z", "price": 0.2378, "label": "O:"},
            {"date": "2019-02-12T12:00:00Z", "price": 0.2378, "label": "H:"},
            {"date": "2019-02-26T12:00:00Z", "price": 0.2378, "label": "L:"},
            {"date": "2019-03-11T19:00:00Z", "price": 0.2378, "label": "C:"}
          ]},
          "mark": {"type": "text", "color": "#222222", "fontWeight": "bold", "fontSize": 12.2, "align": "left", "baseline": "middle"},
          "encoding": {"text": {"field": "label"}}
        },
        {
          "data": {"values": [
            {"date": "2018-12-14T23:30:00Z", "price": 0.2464, "label": "published on TradingView.com, June 05, 2019 16:59:57 UTC"},
            {"date": "2018-12-25T00:15:00Z", "price": 0.2378, "label": "0.12255164"},
            {"date": "2019-01-07T20:00:00Z", "price": 0.2378, "label": "+0.00154232 (+1.27%)"}
          ]},
          "mark": {"type": "text", "color": "#333333", "fontSize": 12.2, "align": "left", "baseline": "middle"},
          "encoding": {"text": {"field": "label"}}
        },
        {
          "data": {"values": [{"date": "2018-12-03T09:00:00Z", "price": 0.2464, "label": "ranadagger"}]},
          "mark": {"type": "text", "color": "#4db8e8", "fontSize": 12.4, "align": "left", "baseline": "middle"},
          "encoding": {"text": {"field": "label"}}
        },
        {
          "data": {"values": [
            {"date": "2019-01-31T20:10:00Z", "price": 0.2378, "label": "0.12085546"},
            {"date": "2019-02-14T15:36:00Z", "price": 0.2378, "label": "0.12698400"},
            {"date": "2019-02-28T07:00:00Z", "price": 0.2378, "label": "0.11875886"},
            {"date": "2019-03-13T19:00:00Z", "price": 0.2378, "label": "0.12255164"}
          ]},
          "mark": {"type": "text", "color": "#22ab2e", "fontSize": 12.2, "align": "left", "baseline": "middle"},
          "encoding": {"text": {"field": "label"}}
        },
        {
          "data": {"values": [{"date": "2019-01-06T10:20:00Z", "price": 0.2378}]},
          "mark": {"type": "point", "shape": "triangle-up", "filled": true, "color": "#089c08", "opacity": 1, "size": 110}
        },
        {
          "data": {"values": [
            {"date": "2018-12-04T18:40:00Z", "price": 0.2226, "label": "Lumen / US Dollar (calculated by TradingView), 1D, BITTREX"},
            {"date": "2018-12-04T18:40:00Z", "price": 0.2144, "label": "MA (50, close)"},
            {"date": "2018-12-04T18:40:00Z", "price": 0.2060, "label": "EMA (20, close)"}
          ]},
          "mark": {"type": "text", "color": "#5f5f5f", "fontSize": 12.5, "align": "left", "baseline": "middle"},
          "encoding": {"text": {"field": "label"}}
        },
        {
          "data": {"values": [
            {"date": "2018-12-17", "price": 0.0879, "label": "S"},
            {"date": "2019-02-07T17:00:00Z", "price": 0.0691, "label": "H"},
            {"date": "2019-05-05T17:00:00Z", "price": 0.0874, "label": "S"}
          ]},
          "mark": {"type": "text", "color": "#1d4a5a", "fontSize": 17, "align": "center", "baseline": "middle"},
          "encoding": {"text": {"field": "label"}}
        }
      ]
    },
    {
      "encoding": {
        "y": {
          "field": "rsi",
          "type": "quantitative",
          "title": null,
          "scale": {"domain": [18.56, 79.52], "range": [508, 381], "zero": false, "nice": false, "padding": 0},
          "axis": {
            "orient": "right",
            "offset": -80,
            "grid": false,
            "values": [20, 40, 60],
            "format": ".4f",
            "labelFont": "Noto Sans",
            "labelFontSize": 10.5,
            "labelColor": "#6a6a6a",
            "labelPadding": 5,
            "labelOverlap": false,
            "labelBound": false,
            "tickColor": "#555555",
            "tickSize": 4,
            "domainColor": "#555555"
          }
        }
      },
      "layer": [
        {
          "data": {"name": "dateGrid"},
          "mark": {"type": "rule", "color": "#e3e3e3", "strokeWidth": 1},
          "encoding": {"y2": {"field": "rsi2"}}
        },
        {
          "data": {"values": [
            {"date": "2018-12-03T09:10:00Z", "date2": "2019-06-10T03:00:00Z", "rsi": 20},
            {"date": "2018-12-03T09:10:00Z", "date2": "2019-06-10T03:00:00Z", "rsi": 40},
            {"date": "2018-12-03T09:10:00Z", "date2": "2019-06-10T03:00:00Z", "rsi": 60}
          ]},
          "mark": {"type": "rule", "color": "#e3e3e3", "strokeWidth": 1},
          "encoding": {"x2": {"field": "date2"}}
        },
        {
          "data": {"values": [{"date": "2018-12-03T09:10:00Z", "date2": "2019-06-10T03:00:00Z", "rsi": 30, "rsi2": 70.7}]},
          "mark": {"type": "rect", "color": "#a020f0", "opacity": 0.11},
          "encoding": {"x2": {"field": "date2"}, "y2": {"field": "rsi2"}}
        },
        {
          "data": {"values": [
            {"date": "2018-12-03T09:10:00Z", "date2": "2019-06-10T03:00:00Z", "rsi": 30},
            {"date": "2018-12-03T09:10:00Z", "date2": "2019-06-10T03:00:00Z", "rsi": 70.7}
          ]},
          "mark": {"type": "rule", "color": "#b8a9c4", "strokeWidth": 1, "strokeDash": [5, 4]},
          "encoding": {"x2": {"field": "date2"}}
        },
        {
          "data": {"name": "rsiFrame"},
          "mark": {"type": "rule", "color": "#555555", "strokeWidth": 1},
          "encoding": {"x2": {"field": "date2"}, "y2": {"field": "rsi2"}}
        },
        {
          "data": {"name": "candles"},
          "mark": {"type": "line", "color": "#ff6d1a", "strokeWidth": 1}
        },
        {
          "data": {"values": [{"date": "2019-06-10T03:00:00Z", "date2": "2019-06-19T08:00:00Z", "rsi": 47.63}]},
          "mark": {"type": "bar", "size": 17, "orient": "horizontal", "color": "#ff6d00"},
          "encoding": {"x2": {"field": "date2"}}
        },
        {
          "data": {"values": [{"date": "2019-06-14T17:00:00Z", "rsi": 47.63, "label": "47.6335"}]},
          "mark": {"type": "text", "color": "white", "fontWeight": "bold", "fontSize": 10.5, "align": "center", "baseline": "middle"},
          "encoding": {"text": {"field": "label"}}
        },
        {
          "data": {"values": [{"date": "2018-12-04T18:40:00Z", "rsi": 71.2, "label": "RSI (14, close)"}]},
          "mark": {"type": "text", "color": "#5f5f5f", "fontSize": 12.5, "align": "left", "baseline": "middle"},
          "encoding": {"text": {"field": "label"}}
        },
        {
          "data": {"values": [{"date": "2018-12-03T09:00:00Z", "rsi": -3.76, "label": "Created with"}]},
          "mark": {"type": "text", "color": "#222222", "fontSize": 12.5, "align": "left", "baseline": "middle"},
          "encoding": {"text": {"field": "label"}}
        },
        {
          "data": {"values": [{"date": "2018-12-19T18:00:00Z", "rsi": -3.76, "label": "TradingView"}]},
          "mark": {"type": "text", "color": "#4db8e8", "fontSize": 12.3, "align": "left", "baseline": "middle"},
          "encoding": {"text": {"field": "label"}}
        },
        {
          "data": {"values": [{"date": "2018-12-17T18:30:00Z", "rsi": -3.76}]},
          "mark": {"type": "point", "shape": "M-0.95,0.65 C-1.1,0.2 -0.8,-0.15 -0.45,-0.15 C-0.3,-0.7 0.3,-0.8 0.5,-0.25 C0.9,-0.25 1.1,0.2 0.95,0.65 Z", "filled": true, "color": "#4db8e8", "opacity": 1, "size": 576}
        },
        {
          "data": {"values": [{"date": "2018-12-17T18:30:00Z", "rsi": -3.76}]},
          "mark": {"type": "point", "shape": "M-0.9,0.5 L-0.35,0 L0.1,0.45 L0.55,-0.05 L0.95,0.3", "filled": false, "color": "white", "strokeWidth": 1.5, "opacity": 1, "size": 576}
        }
      ]
    }
  ],
  "resolve": {"scale": {"y": "independent"}, "axis": {"y": "independent"}}
}
